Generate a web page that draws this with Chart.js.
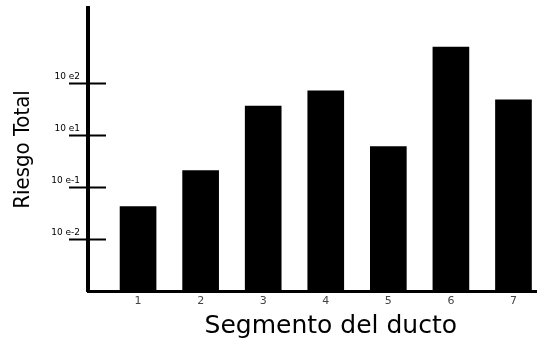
<!DOCTYPE html>
<html>
<head>
<meta charset="utf-8">
<script src="https://cdn.jsdelivr.net/npm/chart.js@4"></script>
<style>
  html, body { margin: 0; padding: 0; background: #fff; }
  #wrap { width: 537px; height: 339px; position: relative; }
</style>
</head>
<body>
<div id="wrap"><canvas id="riesgo-chart"></canvas></div>
<script>
// Segmentos del ducto y riesgo (en pasos de la escala del eje)
const segmentos = [1, 2, 3, 4, 5, 6, 7];
const riesgo = [1.62, 2.31, 3.55, 3.84, 2.77, 4.68, 3.67];
const yTickValues = [1, 2, 3, 4];
const yTickLabels = ['10 e-2', '10 e-1', '10 e1', '10 e2'];
const xTitle = 'Segmento del ducto';

// marcas cruzando el eje Y y título del eje X centrado sobre los segmentos
const axisExtras = {
    id: 'axisExtras',
    afterDraw(chart) {
        const { ctx, chartArea, scales } = chart;
        ctx.save();
        ctx.strokeStyle = '#000';
        ctx.lineWidth = 2;
        yTickValues.forEach(v => {
            const y = Math.round(scales.y.getPixelForValue(v)) + 0.5;
            ctx.beginPath();
            ctx.moveTo(chartArea.left - 19, y);
            ctx.lineTo(chartArea.left + 18, y);
            ctx.stroke();
        });

        const mid = segmentos[Math.floor(segmentos.length / 2)];
        ctx.fillStyle = '#000';
        ctx.font = '25px "DejaVu Sans"';
        ctx.textAlign = 'center';
        ctx.textBaseline = 'middle';
        ctx.fillText(xTitle, scales.x.getPixelForValue(mid) + 5, chart.height - 13);
        ctx.restore();
    }
};

document.addEventListener('DOMContentLoaded', () => {
    const ctx = document.getElementById('riesgo-chart').getContext('2d');
    new Chart(ctx, {
        type: 'bar',
        data: {
            datasets: [{
                label: 'Riesgo Total',
                data: segmentos.map((s, i) => ({ x: s, y: riesgo[i] })),
                backgroundColor: '#000',
                borderWidth: 0,
                barThickness: 36
            }]
        },
        options: {
            responsive: true,
            maintainAspectRatio: false,
            animation: false,
            layout: { padding: { top: 8, left: 0, right: 0, bottom: 0 } },
            plugins: { legend: { display: false }, tooltip: { enabled: false } },
            scales: {
                x: {
                    type: 'linear',
                    offset: false,
                    min: 0.2,
                    max: 7.376,
                    afterBuildTicks: scale => { scale.ticks = segmentos.map(v => ({ value: v })); },
                    afterFit: scale => { scale.height = 48; scale.paddingLeft = 0; scale.paddingRight = 0; },
                    grid: { display: false, drawTicks: false },
                    border: { display: true, color: '#000', width: 3 },
                    ticks: {
                        color: '#444',
                        padding: 4,
                        font: { family: 'DejaVu Sans', size: 11 },
                        callback: v => String(v)
                    },
                    title: { display: false }
                },
                y: {
                    min: 0,
                    max: 5.43,
                    afterBuildTicks: scale => { scale.ticks = yTickValues.map(v => ({ value: v })); },
                    afterFit: scale => { scale.width = 88; scale.paddingTop = 0; scale.paddingBottom = 0; },
                    grid: { display: false, drawTicks: false },
                    border: { display: true, color: '#000', width: 4 },
                    ticks: {
                        color: '#000',
                        padding: 8,
                        labelOffset: -6,
                        font: { family: 'DejaVu Sans', size: 9 },
                        callback: (v) => {
                            const i = yTickValues.indexOf(v);
                            return i >= 0 ? yTickLabels[i] : '';
                        }
                    },
                    title: {
                        display: true,
                        text: 'Riesgo Total',
                        color: '#000',
                        font: { family: "'DejaVu Sans Condensed', sans-serif", size: 22, lineHeight: 1.2 },
                        padding: { top: 10, bottom: 0 }
                    }
                }
            }
        },
        plugins: [axisExtras]
    });
});
</script>
</body>
</html>
